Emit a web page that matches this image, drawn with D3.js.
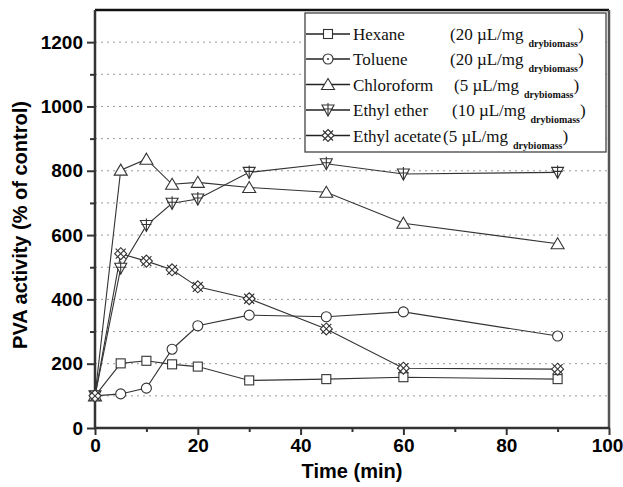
<!DOCTYPE html>
<html><head><meta charset="utf-8">
<script src="https://cdn.jsdelivr.net/npm/d3@7"></script>
<style>body{margin:0;background:#fff}svg{display:block}</style>
</head><body><svg id="c" width="623" height="487"></svg>
<script>
const times = [0, 5, 10, 15, 20, 30, 45, 60, 90];
const hexane = [100, 201, 209, 198, 191, 148, 152, 158, 152];
const toluene = [100, 106, 124, 245, 318, 351, 346, 361, 286];
const chloroform = [100, 802, 836, 758, 764, 748, 733, 637, 573];
const ethylEther = [100, 497, 630, 699, 712, 795, 822, 790, 795];
const ethylAcetate = [100, 542, 519, 492, 439, 402, 308, 186, 183];
const seriesNames = ["Hexane", "Toluene", "Chloroform", "Ethyl ether", "Ethyl acetate"];
const doses = ["(20 \u00B5L/mg", "(20 \u00B5L/mg", "(5 \u00B5L/mg", "(10 \u00B5L/mg", "(5 \u00B5L/mg"];
const markers = ["square", "circle", "triangle", "downtri", "xdiamond"];
const xTicks = [0, 20, 40, 60, 80, 100];
const yTicks = [0, 200, 400, 600, 800, 1000, 1200];
const gridVals = [100, 200, 300, 400, 500, 600, 700, 800, 900, 1000, 1100, 1200];

const allSeries = [hexane, toluene, chloroform, ethylEther, ethylAcetate];
const svg = d3.select("#c");
const L = 95, R = 609, T = 10, B = 428;
const x = d3.scaleLinear().domain([0, 100]).range([L, R]);
const y = d3.scaleLinear().domain([0, 1300]).range([B, T]);
const ink = "#333";

// grid
svg.append("g").selectAll("line").data(gridVals).join("line")
  .attr("x1", L).attr("x2", R).attr("y1", d => y(d)).attr("y2", d => y(d))
  .attr("stroke", "#999").attr("stroke-width", 1).attr("stroke-dasharray", "2,4");

// axes
const yAx = svg.append("g").attr("transform", `translate(${L},0)`)
  .call(d3.axisLeft(y).tickValues(yTicks).tickSize(8).tickPadding(4).tickFormat(d3.format("d")));
const yMinor = svg.append("g").attr("transform", `translate(${L},0)`)
  .call(d3.axisLeft(y).tickValues(d3.range(100, 1300, 200)).tickSize(5).tickFormat(""));
const xAx = svg.append("g").attr("transform", `translate(0,${B})`)
  .call(d3.axisBottom(x).tickValues(xTicks).tickSize(7).tickPadding(4).tickFormat(d3.format("d")));
const xMinor = svg.append("g").attr("transform", `translate(0,${B})`)
  .call(d3.axisBottom(x).tickValues(d3.range(10, 100, 20)).tickSize(4).tickFormat(""));
[yAx, yMinor, xAx, xMinor].forEach(g => {
  g.select(".domain").remove();
  g.selectAll("line").attr("stroke", ink).attr("stroke-width", 2);
  g.selectAll("text").attr("fill", "#000").style("font-family", "Liberation Sans, Arial, sans-serif")
    .style("font-size", "19px").style("font-weight", "bold");
});
xAx.selectAll(".tick").filter(d => d === 100).select("text").attr("dx", -2);
// frame
svg.append("line").attr("x1", L).attr("x2", R).attr("y1", T).attr("y2", T).attr("stroke", "#111").attr("stroke-width", 2.5);
svg.append("line").attr("x1", R).attr("x2", R).attr("y1", T).attr("y2", B).attr("stroke", "#555").attr("stroke-width", 2.5);
svg.append("line").attr("x1", L).attr("x2", L).attr("y1", T).attr("y2", B + 1).attr("stroke", ink).attr("stroke-width", 2.5);
svg.append("line").attr("x1", L - 1).attr("x2", R + 1).attr("y1", B).attr("y2", B).attr("stroke", ink).attr("stroke-width", 2.5);

// titles
svg.append("text").attr("x", 352).attr("y", 478).attr("text-anchor", "middle")
  .style("font-family", "Liberation Sans, Arial, sans-serif").style("font-size", "20px").style("font-weight", "bold")
  .text("Time (min)");
svg.append("text").attr("transform", "translate(27,225) rotate(-90)").attr("text-anchor", "middle")
  .style("font-family", "Liberation Sans, Arial, sans-serif").style("font-size", "20px").style("font-weight", "bold")
  .text("PVA activity (% of control)");

// marker drawing
function drawMarker(g, type, cx, cy, legend) {
  const st = {stroke: ink, "stroke-width": 1.1, fill: "#fff"};
  const ap = (el) => { Object.entries(st).forEach(([k, v]) => el.attr(k, v)); return el; };
  if (type === "square") {
    ap(g.append("rect").attr("x", cx - 4.5).attr("y", cy - 4.5).attr("width", 9).attr("height", 9));
  } else if (type === "circle") {
    ap(g.append("circle").attr("cx", cx).attr("cy", cy).attr("r", 5));
    if (legend) g.append("circle").attr("cx", cx).attr("cy", cy).attr("r", 1).attr("fill", ink);
  } else if (type === "triangle") {
    ap(g.append("path").attr("d", `M${cx},${cy - 6}L${cx + 6.5},${cy + 5}L${cx - 6.5},${cy + 5}Z`));
  } else if (type === "downtri") {
    ap(g.append("path").attr("d", `M${cx - 6},${cy - 5}L${cx + 6},${cy - 5}L${cx},${cy + 6}Z`));
    ap(g.append("path").attr("d", `M${cx},${cy - 7}V${cy + 6}M${cx - 5},${cy - 1}H${cx + 5}`).attr("fill", "none"));
  } else {
    ap(g.append("path").attr("d", `M${cx},${cy - 6}L${cx + 6},${cy}L${cx},${cy + 6}L${cx - 6},${cy}Z`));
    ap(g.append("path").attr("d", `M${cx - 5},${cy - 5}L${cx + 5},${cy + 5}M${cx + 5},${cy - 5}L${cx - 5},${cy + 5}`).attr("fill", "none"));
  }
}

const line = d3.line().x((d, i) => x(times[i])).y(d => y(d));
const plot = svg.append("g");
allSeries.forEach(s => {
  plot.append("path").attr("d", line(s)).attr("fill", "none").attr("stroke", ink).attr("stroke-width", 1.1);
});
allSeries.forEach((s, k) => {
  const g = plot.append("g");
  s.forEach((v, i) => drawMarker(g, markers[k], x(times[i]), y(v), false));
});

// legend
const lg = svg.append("g");
lg.append("rect").attr("x", 305).attr("y", 13).attr("width", 301).attr("height", 139)
  .attr("fill", "#fff").attr("stroke", "#444").attr("stroke-width", 1.3);
const rowY = [34, 59, 84.5, 110, 135.5];
const doseX = [450, 450, 454, 452, 443];
const serif = "Liberation Serif, Times New Roman, serif";
seriesNames.forEach((n, k) => {
  const cy = rowY[k];
  lg.append("line").attr("x1", 306).attr("x2", 350).attr("y1", cy).attr("y2", cy).attr("stroke", "#222").attr("stroke-width", 1.3);
  drawMarker(lg, markers[k], 328, cy, true);
  lg.append("text").attr("x", 353).attr("y", cy + 6)
    .style("font-family", serif).style("font-size", "17px").attr("fill", "#111").text(n);
  const t2 = lg.append("text").attr("x", doseX[k]).attr("y", cy + 6)
    .style("font-family", serif).style("font-size", "17px").attr("fill", "#111");
  t2.append("tspan").text(doses[k]);
  t2.append("tspan").attr("dx", 5).attr("dy", 7).style("font-size", "10px").style("font-weight", "bold").text("drybiomass");
  t2.append("tspan").attr("dy", -7).text(")");
});
</script></body></html>
